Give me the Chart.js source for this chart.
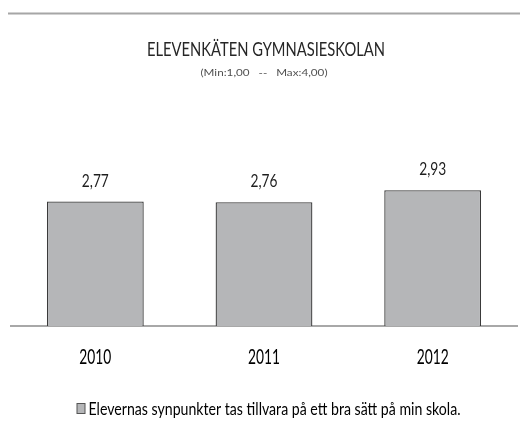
<!DOCTYPE html>
<html><head><meta charset="utf-8">
<script src="https://cdn.jsdelivr.net/npm/chart.js@4/dist/chart.umd.min.js"></script>
<style>html,body{margin:0;padding:0;background:#fff}#wrap{width:520px;height:432px}</style>
</head><body><div id="wrap"><canvas id="c" width="520" height="432"></canvas></div>
<script>
const categories = ["2010", "2011", "2012"];
const seriesLabel = "Elevernas synpunkter tas tillvara på ett bra sätt på min skola.";
const values = [2.77, 2.76, 2.93];
const axisMin = 1, axisMax = 4;
const titleText = "ELEVENKÄTEN GYMNASIESKOLAN";
const subtitleText = "(Min:1,00   --   Max:4,00)";

const FONT = "Lato, 'Liberation Sans', sans-serif";
const BAR_FILL = '#b5b6b8';

// draw text compressed horizontally (narrow, tall lettering as in the reference)
function narrowText(ctx, text, x, baseline, size, sx, weight, color, align) {
  ctx.save();
  ctx.font = `${weight} ${size}px ${FONT}`;
  ctx.fillStyle = color;
  ctx.textAlign = align || 'center';
  ctx.textBaseline = 'alphabetic';
  ctx.translate(x, baseline);
  ctx.scale(sx, 1);
  ctx.fillText(text, 0, 0);
  ctx.restore();
}
function squeezeFor(ctx, sample, size, weight, targetWidth) {
  ctx.save();
  ctx.font = `${weight} ${size}px ${FONT}`;
  const w = ctx.measureText(sample).width;
  ctx.restore();
  return targetWidth / w;
}

const decorations = {
  id: 'decorations',
  beforeDraw(chart) {
    const ctx = chart.ctx;
    ctx.save();
    ctx.strokeStyle = '#a6a6a6';
    ctx.lineWidth = 2;
    ctx.beginPath(); ctx.moveTo(8, 13.5); ctx.lineTo(520, 13.5); ctx.stroke();
    ctx.restore();
    narrowText(ctx, titleText, 266, 56, 20, squeezeFor(ctx, titleText, 20, 'normal', 238), 'normal', '#262626');
    narrowText(ctx, subtitleText, 264, 75.5, 10, squeezeFor(ctx, subtitleText, 10, 'normal', 127), 'normal', '#505050');
  },
  afterDraw(chart) {
    const ctx = chart.ctx;
    const xs = chart.scales.x;
    // category labels placed through the x scale
    const tsx = squeezeFor(ctx, categories[0], 21.5, 'normal', 32);
    categories.forEach((c, i) => {
      narrowText(ctx, c, xs.getPixelForValue(i), 363.5, 21.5, tsx, 'normal', '#000');
    });
    // legend
    const lx = 77, ly = 403.5;
    ctx.save();
    ctx.fillStyle = BAR_FILL;
    ctx.strokeStyle = '#555';
    ctx.lineWidth = 1;
    ctx.fillRect(lx, ly, 8, 10);
    ctx.strokeRect(lx, ly, 8, 10);
    ctx.restore();
    narrowText(ctx, seriesLabel, 88.5, 415, 17, squeezeFor(ctx, seriesLabel, 17, 'normal', 372), 'normal', '#000', 'left');
  },
  afterDatasetsDraw(chart) {
    const ctx = chart.ctx;
    const meta = chart.getDatasetMeta(0);
    const vsx = squeezeFor(ctx, '2,77', 18, 'normal', 27);
    meta.data.forEach((bar, i) => {
      narrowText(ctx, values[i].toFixed(2).replace('.', ','), bar.x, bar.y - 15, 18, vsx, 'normal', '#1e1e1e');
    });
  }
};

new Chart(document.getElementById('c'), {
  type: 'bar',
  data: {
    labels: categories,
    datasets: [{
      label: seriesLabel,
      data: values,
      backgroundColor: BAR_FILL,
      borderColor: '#3a3a3a',
      borderWidth: 1.3,
      borderSkipped: 'bottom',
      categoryPercentage: 1,
      barPercentage: 0.574
    }]
  },
  options: {
    responsive: false,
    animation: false,
    layout: { padding: { left: 11, right: 3, top: 115, bottom: 106 } },
    scales: {
      x: {
        grid: { display: false, drawTicks: false },
        border: { display: true, color: '#a8a8a8', width: 2 },
        ticks: { display: false }
      },
      y: { display: false, min: axisMin, max: axisMax }
    },
    plugins: {
      tooltip: { enabled: false },
      title: { display: false },
      legend: { display: false }
    }
  },
  plugins: [decorations]
});
</script></body></html>
